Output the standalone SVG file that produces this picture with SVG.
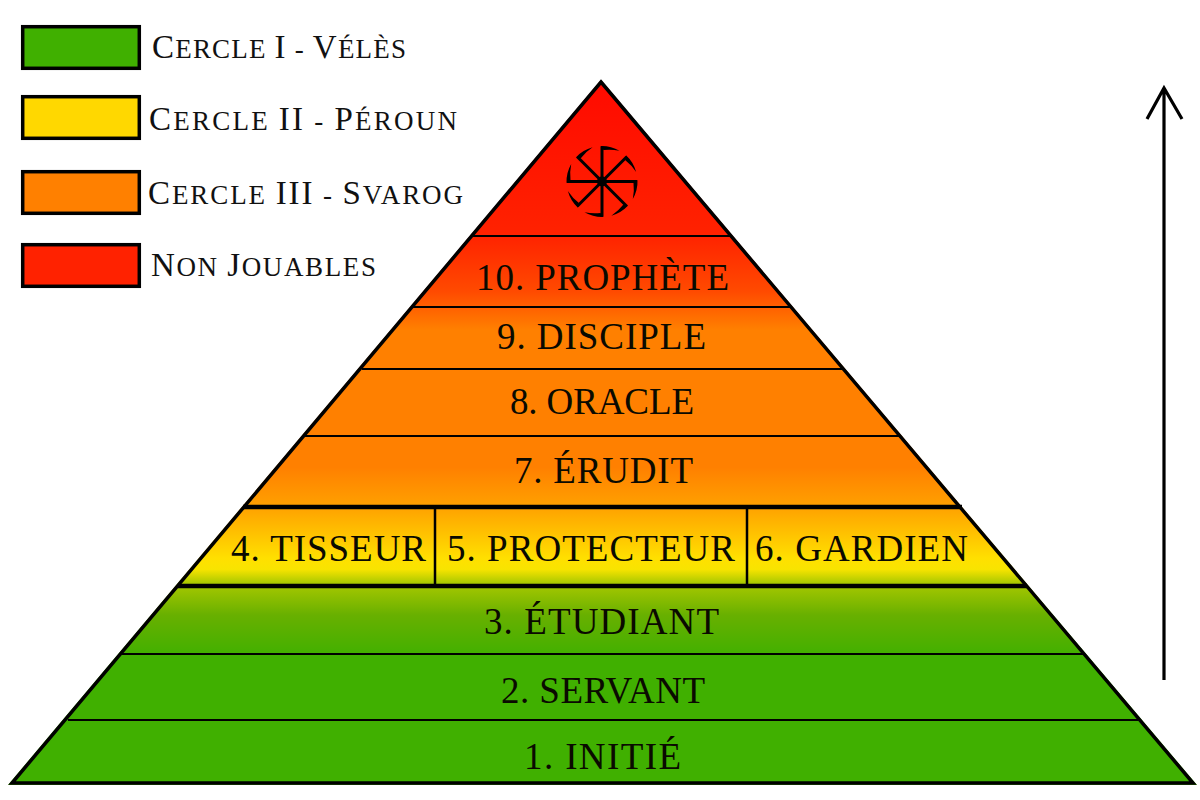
<svg xmlns="http://www.w3.org/2000/svg" xmlns:xlink="http://www.w3.org/1999/xlink" width="1200" height="800" viewBox="0 0 1200 800">
<style>
.t{font-family:"Liberation Serif","Times New Roman",serif;font-size:37px;fill:#0a0a00}
.l{font-family:"Liberation Serif","Times New Roman",serif;font-size:27px;fill:#111}
.c{font-size:33px}
.sw{stroke:#000;stroke-width:3.5}
.d{stroke:#000;stroke-width:2;fill:none}
.D{stroke:#000;stroke-width:4.5;fill:none}
</style>
<defs>
<linearGradient id="g" gradientUnits="userSpaceOnUse" x1="0" y1="80" x2="0" y2="784">
<stop offset="0" stop-color="#ff0a00"/>
<stop offset="0.22" stop-color="#ff2200"/>
<stop offset="0.3" stop-color="#ff4a00"/>
<stop offset="0.355" stop-color="#ff8000"/>
<stop offset="0.55" stop-color="#ff8000"/>
<stop offset="0.605" stop-color="#ffa000"/>
<stop offset="0.68" stop-color="#ffe000"/>
<stop offset="0.695" stop-color="#f8e400"/>
<stop offset="0.715" stop-color="#a8c800"/>
<stop offset="0.76" stop-color="#68b000"/>
<stop offset="0.82" stop-color="#40b000"/>
<stop offset="1" stop-color="#40b000"/>
</linearGradient>
<g id="arm">
<path d="M0,0V-35" stroke="#000" stroke-width="3" fill="none"/>
<path d="M-1.5,-35.5A35.5,35.5 0 0 1 17.5,-30.8Q9,-32.5 1.5,-31.5Z" fill="#000"/>
</g>
</defs>

<g id="pyramid">
<polygon points="601,80 1197,785 8,785" fill="url(#g)"/>
</g>

<g id="connectors">
<path class="d" d="M472,236H731M413,307H791M362,369H843M303,436H900M121,654H1085M68,720H1139"/>
<path class="D" d="M243,507H962M178,586H1027"/>
<path d="M435,507V586M747,507V586" stroke="#000" stroke-width="2.5" fill="none"/>
<polygon points="601,82 1193,783 12,783" fill="none" stroke="#000" stroke-width="3.5" stroke-linejoin="miter"/>
<path d="M1164,680V88M1147,119L1164,88L1182,119" fill="none" stroke="#000" stroke-width="3.2"/>
</g>

<g id="symbol" transform="translate(602,181.5)">
<circle r="5" fill="#000"/>
<use xlink:href="#arm" href="#arm"/>
<use xlink:href="#arm" href="#arm" transform="rotate(45)"/>
<use xlink:href="#arm" href="#arm" transform="rotate(90)"/>
<use xlink:href="#arm" href="#arm" transform="rotate(135)"/>
<use xlink:href="#arm" href="#arm" transform="rotate(180)"/>
<use xlink:href="#arm" href="#arm" transform="rotate(225)"/>
<use xlink:href="#arm" href="#arm" transform="rotate(270)"/>
<use xlink:href="#arm" href="#arm" transform="rotate(315)"/>
</g>

<g id="tier-10"><text class="t" x="476" y="290" textLength="253">10. PROPHÈTE</text></g>
<g id="tier-9"><text class="t" x="497" y="349" textLength="209">9. DISCIPLE</text></g>
<g id="tier-8"><text class="t" x="510" y="414" textLength="184">8. ORACLE</text></g>
<g id="tier-7"><text class="t" x="514" y="483" textLength="179">7. ÉRUDIT</text></g>
<g id="tier-4"><text class="t" x="231" y="561" textLength="195">4. TISSEUR</text></g>
<g id="tier-5"><text class="t" x="447" y="561" textLength="288">5. PROTECTEUR</text></g>
<g id="tier-6"><text class="t" x="755" y="561" textLength="213">6. GARDIEN</text></g>
<g id="tier-3"><text class="t" x="484" y="634" textLength="235">3. ÉTUDIANT</text></g>
<g id="tier-2"><text class="t" x="501" y="703" textLength="204">2. SERVANT</text></g>
<g id="tier-1"><text class="t" x="524" y="769" textLength="157">1. INITIÉ</text></g>

<g id="legend-1"><rect class="sw" x="22.7" y="26.7" width="116.6" height="41.6" fill="#40b000"/><text class="l" x="152" y="58" textLength="254"><tspan class="c">C</tspan>ERCLE <tspan class="c">I</tspan> - <tspan class="c">V</tspan>ÉLÈS</text></g>
<g id="legend-2"><rect class="sw" x="22.7" y="96.7" width="116.6" height="41.6" fill="#ffd800"/><text class="l" x="149" y="130" textLength="308"><tspan class="c">C</tspan>ERCLE <tspan class="c">II</tspan> - <tspan class="c">P</tspan>ÉROUN</text></g>
<g id="legend-3"><rect class="sw" x="22.7" y="171.7" width="116.6" height="41.6" fill="#ff8000"/><text class="l" x="148" y="204" textLength="315"><tspan class="c">C</tspan>ERCLE <tspan class="c">III</tspan> - <tspan class="c">S</tspan>VAROG</text></g>
<g id="legend-4"><rect class="sw" x="22.7" y="244.7" width="116.6" height="41.6" fill="#ff2200"/><text class="l" x="151" y="276" textLength="225"><tspan class="c">N</tspan>ON <tspan class="c">J</tspan>OUABLES</text></g>
</svg>
